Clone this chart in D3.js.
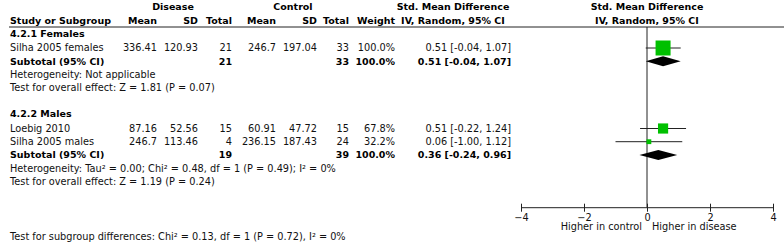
<!DOCTYPE html>
<html>
<head>
<meta charset="utf-8">
<script src="https://cdn.jsdelivr.net/npm/d3@7"></script>
<style>
  body { margin: 0; background: #fff; }
  svg text { font-family: "DejaVu Sans", sans-serif; font-size: 9.75px; fill: #111; }
  .bold { font-weight: bold; fill: #000; font-size: 9.5px; }
</style>
</head>
<body>
<div id="chart"></div>
<script>
// Studies
const studyNames = ["Silha 2005 females", "Loebig 2010", "Silha 2005 males"];
const studyGroup = ["4.2.1 Females", "4.2.2 Males", "4.2.2 Males"];
const diseaseMean = ["336.41", "87.16", "246.7"];
const diseaseSD = ["120.93", "52.56", "113.46"];
const diseaseN = [21, 15, 4];
const controlMean = ["246.7", "60.91", "236.15"];
const controlSD = ["197.04", "47.72", "187.43"];
const controlN = [33, 15, 24];
const weights = [100.0, 67.8, 32.2];
const smd = [0.51, 0.51, 0.06];
const ciLow = [-0.04, -0.22, -1.00];
const ciHigh = [1.07, 1.24, 1.12];

// Subgroups
const groups = ["4.2.1 Females", "4.2.2 Males"];
const subDiseaseN = [21, 19];
const subControlN = [33, 39];
const subSmd = [0.51, 0.36];
const subLow = [-0.04, -0.24];
const subHigh = [1.07, 0.96];
const heterogeneity = [
  "Heterogeneity: Not applicable",
  "Heterogeneity: Tau² = 0.00; Chi² = 0.48, df = 1 (P = 0.49); I² = 0%"
];
const overallEffect = [
  "Test for overall effect: Z = 1.81 (P = 0.07)",
  "Test for overall effect: Z = 1.19 (P = 0.24)"
];
const subgroupTest = "Test for subgroup differences: Chi² = 0.13, df = 1 (P = 0.72), I² = 0%";

const axisTicks = [-4, -2, 0, 2, 4];
const axisLeftLabel = "Higher in control";
const axisRightLabel = "Higher in disease";

const W = 784, H = 243;
const svg = d3.select("#chart").append("svg")
  .attr("width", W).attr("height", H);

// Column positions (right edges)
const col = {
  name: 10, dMean: 157, dSD: 198, dN: 232,
  cMean: 276, cSD: 317, cN: 349, weight: 395, ci: 511, ciMid: 453
};

const x = d3.scaleLinear().domain([-4, 4]).range([521, 773]);
const side = d3.scaleLinear().domain([0, 100]).range([0, 15]);

const fmt2 = d3.format(".2f");
const num = v => fmt2(v).replace("−", "-");
const ciText = (e, lo, hi) => `${num(e)} [${num(lo)}, ${num(hi)}]`;

function txt(xp, y, s, anchor, bold) {
  return svg.append("text")
    .attr("x", xp).attr("y", y).attr("dy", "0.35em")
    .attr("text-anchor", anchor || "start")
    .attr("class", bold ? "bold" : null)
    .text(s);
}

// Header
const hy1 = 6.5, hy2 = 20.5, lineY = 27;
txt(173, hy1, "Disease", "middle", true);
txt(293, hy1, "Control", "middle", true);
txt(col.ciMid, hy1, "Std. Mean Difference", "middle", true);
txt(x(0), hy1, "Std. Mean Difference", "middle", true);
txt(col.name, hy2, "Study or Subgroup", "start", true);
[["Mean", col.dMean], ["SD", col.dSD], ["Total", col.dN], ["Mean", col.cMean],
 ["SD", col.cSD], ["Total", col.cN], ["Weight", col.weight]]
  .forEach(([s, p]) => txt(p, hy2, s, "end", true));
txt(col.ciMid, hy2, "IV, Random, 95% CI", "middle", true);
txt(x(0), hy2, "IV, Random, 95% CI", "middle", true);

svg.append("line")
  .attr("x1", 9).attr("x2", W).attr("y1", lineY).attr("y2", lineY)
  .attr("stroke", "#222").attr("stroke-width", 1);

// Build row layout
const step = 13.2;
let y = 33.5;
const rows = [];
groups.forEach((g, gi) => {
  rows.push({ kind: "title", g: gi, y: y });
  y += 14.5;
  studyNames.forEach((n, i) => {
    if (studyGroup[i] === g) { rows.push({ kind: "study", i: i, y: y }); y += step; }
  });
  rows.push({ kind: "sub", g: gi, y: y }); y += step;
  rows.push({ kind: "het", g: gi, y: y }); y += step;
  rows.push({ kind: "test", g: gi, y: y }); y += step;
  y += step;
});

const axisY = 207.7;

// Zero line
svg.append("line")
  .attr("x1", x(0)).attr("x2", x(0)).attr("y1", lineY).attr("y2", axisY)
  .attr("stroke", "#222");

rows.forEach(r => {
  if (r.kind === "title") {
    txt(col.name, r.y, groups[r.g], "start", true);
  } else if (r.kind === "study") {
    const i = r.i;
    txt(col.name, r.y, studyNames[i]);
    txt(col.dMean, r.y, diseaseMean[i], "end");
    txt(col.dSD, r.y, diseaseSD[i], "end");
    txt(col.dN, r.y, diseaseN[i], "end");
    txt(col.cMean, r.y, controlMean[i], "end");
    txt(col.cSD, r.y, controlSD[i], "end");
    txt(col.cN, r.y, controlN[i], "end");
    txt(col.weight, r.y, d3.format(".1f")(weights[i]) + "%", "end");
    txt(col.ci, r.y, ciText(smd[i], ciLow[i], ciHigh[i]), "end");
    svg.append("line")
      .attr("x1", x(ciLow[i])).attr("x2", x(ciHigh[i]))
      .attr("y1", r.y).attr("y2", r.y)
      .attr("stroke", "#222");
    const s = side(weights[i]);
    svg.append("rect")
      .attr("x", x(smd[i]) - s / 2).attr("y", r.y - s / 2)
      .attr("width", s).attr("height", s)
      .attr("fill", "#00c000");
  } else if (r.kind === "sub") {
    const g = r.g;
    txt(col.name, r.y, "Subtotal (95% CI)", "start", true);
    txt(col.dN, r.y, subDiseaseN[g], "end", true);
    txt(col.cN, r.y, subControlN[g], "end", true);
    txt(col.weight, r.y, "100.0%", "end", true);
    txt(col.ci, r.y, ciText(subSmd[g], subLow[g], subHigh[g]), "end", true);
    const h = 5;
    svg.append("path")
      .attr("d", `M${x(subLow[g])},${r.y} L${x(subSmd[g])},${r.y - h} L${x(subHigh[g])},${r.y} L${x(subSmd[g])},${r.y + h} Z`)
      .attr("fill", "#000");
  } else if (r.kind === "het") {
    txt(col.name, r.y, heterogeneity[r.g]);
  } else if (r.kind === "test") {
    txt(col.name, r.y, overallEffect[r.g]);
  }
});

// Axis
const axis = svg.append("g")
  .attr("transform", `translate(0,${axisY})`)
  .call(d3.axisBottom(x).tickValues(axisTicks).tickSize(4).tickPadding(2));
axis.attr("font-family", null).attr("font-size", null);
axis.select(".domain").attr("stroke", "#222").attr("d", `M${x(-4)},0H${x(4)}`);
axis.selectAll(".tick line").attr("y1", -4).attr("y2", 4).attr("stroke", "#222");
axis.selectAll(".tick text")
  .attr("y", 9.5).attr("dy", "0.35em").attr("fill", "#111");

txt(x(0) - 5, 227, axisLeftLabel, "end");
txt(x(0) + 5, 227, axisRightLabel, "start");

txt(col.name, 237, subgroupTest);
</script>
</body>
</html>
